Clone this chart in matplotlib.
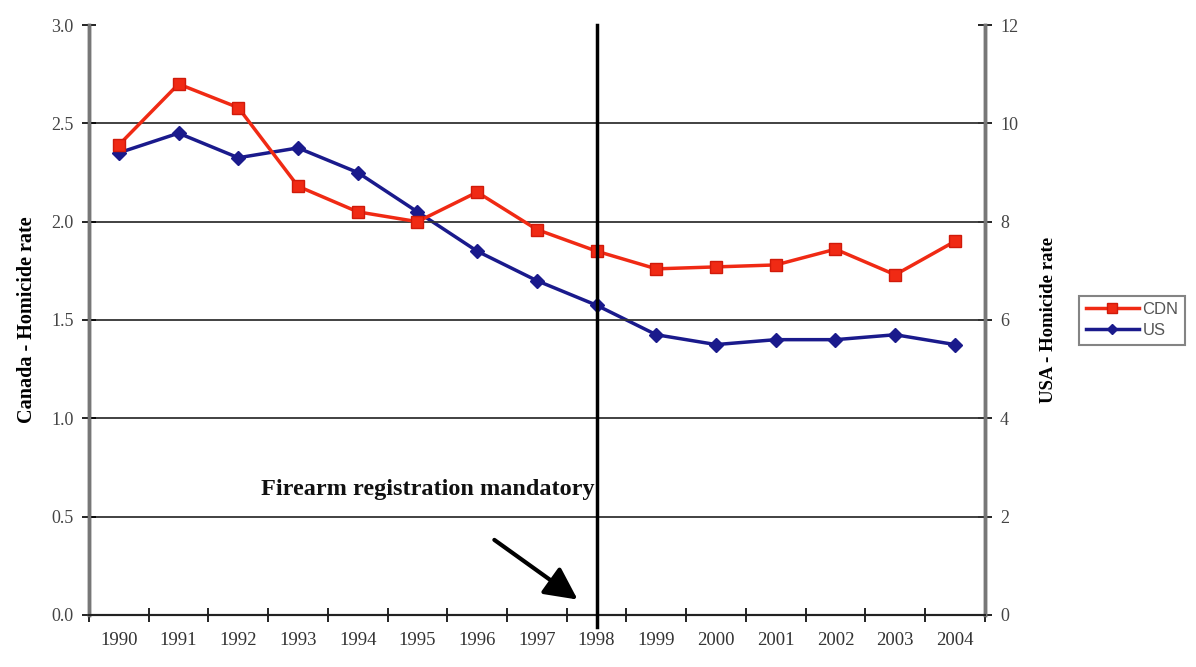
import matplotlib.pyplot as plt
import numpy as np

# Homicide rates per 100,000
years = ['1990', '1991', '1992', '1993', '1994', '1995', '1996', '1997',
         '1998', '1999', '2000', '2001', '2002', '2003', '2004']
cdn = [2.39, 2.70, 2.58, 2.18, 2.05, 2.00, 2.15, 1.96, 1.85, 1.76, 1.77, 1.78, 1.86, 1.73, 1.90]
us = [9.4, 9.8, 9.3, 9.5, 9.0, 8.2, 7.4, 6.8, 6.3, 5.7, 5.5, 5.6, 5.6, 5.7, 5.5]
event_year = '1998'

plt.rcParams['font.family'] = ['Liberation Serif', 'DejaVu Serif']

fig = plt.figure(figsize=(11.96, 6.67), dpi=100)
ax = fig.add_axes([0.0744, 0.078, 0.749, 0.8845])
ax2 = ax.twinx()

x = np.arange(len(years))

# gridlines
ax.set_ylim(0, 3.0)
ax.set_yticks(np.arange(0, 3.01, 0.5))
for v in np.arange(0.5, 2.51, 0.5):
    ax.axhline(v, color='#333333', lw=1.3, zorder=1)

l1, = ax.plot(x, cdn, color='#f02a14', lw=2.5, marker='s', markersize=9,
              markerfacecolor='#f02a14', markeredgecolor='#d01a0a', zorder=4, label='CDN')
l2, = ax2.plot(x, us, color='#1a1a8c', lw=2.5, marker='D', markersize=7,
               markerfacecolor='#1a1a8c', markeredgecolor='#1a1a8c', zorder=3, label='US')
ax.set_zorder(ax2.get_zorder() + 1)
ax.patch.set_visible(False)

ax2.set_ylim(0, 12)
ax2.set_yticks(np.arange(0, 12.1, 2))

ax.set_xlim(-0.5, len(years) - 0.5)
ax.set_xticks(x)
ax.set_xticklabels(years)
ax.set_xticks(np.arange(-0.5, len(years), 1), minor=True)
ax.tick_params(axis='x', which='major', length=0, pad=12, labelsize=13.5, colors='#333333')
ax.tick_params(axis='x', which='minor', length=10, direction='inout', width=1.2)
ax.tick_params(axis='y', direction='inout', length=10, width=1.2, pad=6, labelsize=13, labelcolor='#444444')
ax2.tick_params(axis='y', direction='inout', length=10, width=1.2, pad=6, labelsize=13, labelcolor='#444444')
ax.set_yticklabels(['%.1f' % v for v in np.arange(0, 3.01, 0.5)])

for a in (ax, ax2):
    a.spines['top'].set_visible(False)
    a.spines['left'].set_color('#777777')
    a.spines['right'].set_color('#777777')
    a.spines['left'].set_linewidth(2.5)
    a.spines['right'].set_linewidth(2.5)
    a.spines['bottom'].set_color('#222222')
    a.spines['bottom'].set_linewidth(1.5)

ax.set_ylabel('Canada - Homicide rate', fontsize=14.5, fontweight='bold', labelpad=10)
ax2.set_ylabel('USA - Homicide rate', fontsize=13.5, fontweight='bold', rotation=90, labelpad=16)

# registration line
ex = years.index(event_year)
ax.axvline(ex, ymin=-0.02, ymax=1.0, color='black', lw=2.5, zorder=5, clip_on=False)
ax.text(ex - 0.03, 0.64, 'Firearm registration mandatory', ha='right', va='center',
        fontsize=17.5, fontweight='bold', color='#111111', zorder=6)
ax.annotate('', xy=(ex - 0.28, 0.07), xytext=(ex - 1.75, 0.39),
            arrowprops=dict(arrowstyle='-|>,head_length=0.9,head_width=0.45', color='black',
                            lw=3, mutation_scale=22), zorder=6)

leg = fig.legend(handles=[l1, l2], loc='center', bbox_to_anchor=(0.9465, 0.52),
                 frameon=True, fancybox=False, handlelength=3.2,
                 borderpad=0.4, labelspacing=0.35, handletextpad=0.2, markerscale=0.8,
                 prop={'family': 'Liberation Sans', 'size': 12})
leg.get_frame().set_edgecolor('#666666')
leg.get_frame().set_linewidth(1.5)
for t in leg.get_texts():
    t.set_color('#555555')

fig.savefig('out.png', dpi=100)
